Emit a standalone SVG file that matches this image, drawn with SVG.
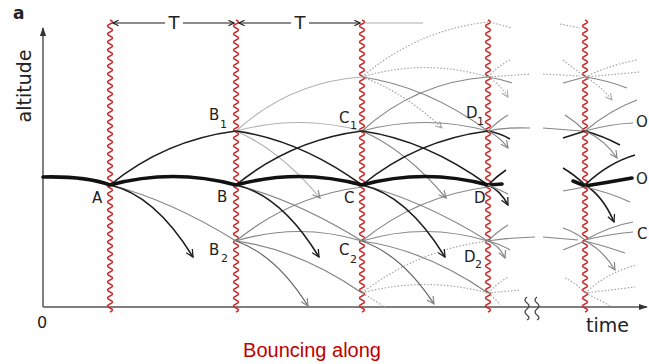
<svg xmlns="http://www.w3.org/2000/svg" xmlns:xlink="http://www.w3.org/1999/xlink" width="649" height="364" viewBox="0 0 649 364">
<style>
.thick{stroke:#111;stroke-width:3.6;fill:none;stroke-linecap:round}
.dk{stroke:#1e1e1e;stroke-width:1.6;fill:none}
.gr{stroke:#858585;stroke-width:1.2;fill:none}
.lg{stroke:#b0b0b0;stroke-width:1.1;fill:none}
.dt{stroke:#a5a5a5;stroke-width:1.2;fill:none;stroke-dasharray:1.5 1.8}
.red{stroke:#cc2b2b;stroke-width:1.5;fill:none}
.ax{stroke:#555;stroke-width:1.5;fill:none}
.lbl{font-family:"DejaVu Sans","Liberation Sans",sans-serif;font-size:15px;fill:#222}
.sub{font-family:"DejaVu Sans","Liberation Sans",sans-serif;font-size:11px;fill:#222}
.ad{marker-end:url(#arrDk)}
.ag{marker-end:url(#arrGr)}
.at{marker-end:url(#arrDt)}
</style>
<defs>
<path id="wave" class="red" d="M0,20 q5,2 0,4 t0,4t0,4t0,4t0,4t0,4t0,4t0,4t0,4t0,4t0,4t0,4t0,4 t0,4t0,4t0,4t0,4t0,4t0,4t0,4t0,4t0,4t0,4t0,4t0,4 t0,4t0,4t0,4t0,4t0,4t0,4t0,4t0,4t0,4t0,4t0,4t0,4 t0,4t0,4t0,4t0,4t0,4t0,4t0,4t0,4t0,4t0,4t0,4t0,4 t0,4t0,4t0,4t0,4t0,4t0,4t0,4t0,4t0,4t0,4t0,4t0,4 t0,4t0,4t0,4t0,4t0,4t0,4t0,4t0,4t0,4t0,4t0,4t0,4"/>
<marker id="arrDk" viewBox="0 0 10 10" refX="9" refY="5" markerWidth="9" markerHeight="9" markerUnits="userSpaceOnUse" orient="auto"><path d="M1,1 L9,5 L1,9" fill="none" stroke="#1e1e1e" stroke-width="1.4"/></marker>
<marker id="arrGr" viewBox="0 0 10 10" refX="9" refY="5" markerWidth="9" markerHeight="9" markerUnits="userSpaceOnUse" orient="auto"><path d="M1,1 L9,5 L1,9" fill="none" stroke="#858585" stroke-width="1.3"/></marker>
<marker id="arrDt" viewBox="0 0 10 10" refX="9" refY="5" markerWidth="8" markerHeight="8" markerUnits="userSpaceOnUse" orient="auto"><path d="M1,1 L9,5 L1,9" fill="none" stroke="#a5a5a5" stroke-width="1.2"/></marker>
<marker id="axArr" viewBox="0 0 10 10" refX="9" refY="5" markerWidth="9" markerHeight="9" markerUnits="userSpaceOnUse" orient="auto"><path d="M0,1.5 L10,5 L0,8.5 Z" fill="#333"/></marker>
<marker id="dimArr" viewBox="0 0 10 10" refX="9" refY="5" markerWidth="7" markerHeight="7" markerUnits="userSpaceOnUse" orient="auto"><path d="M1,1 L9,5 L1,9" fill="none" stroke="#222" stroke-width="1.6"/></marker>
</defs>
<rect width="649" height="364" fill="#fff"/>

<g id="axes">
<line class="ax" x1="43" y1="307" x2="43" y2="28" marker-end="url(#axArr)"/>
<line class="ax" x1="43" y1="307" x2="647" y2="307" marker-end="url(#axArr)"/>
<path d="M527,297 q-4,3 0,6 t0,6 t0,6 t0,5" stroke="#444" stroke-width="1.3" fill="none"/>
<path d="M537,297 q-4,3 0,6 t0,6 t0,6 t0,5" stroke="#444" stroke-width="1.3" fill="none"/>
<text x="13" y="19" font-family="DejaVu Sans,sans-serif" font-weight="bold" font-size="17" fill="#222">a</text>
<text transform="translate(31,86) rotate(-90)" text-anchor="middle" font-family="DejaVu Sans,sans-serif" font-size="19" fill="#222">altitude</text>
<text x="42" y="328" text-anchor="middle" font-family="DejaVu Sans,sans-serif" font-size="16" fill="#222">0</text>
<text x="586" y="332" font-family="DejaVu Sans,sans-serif" font-size="19" fill="#222">time</text>
</g>

<g id="bounces">
<use href="#wave" x="110"/>
<use href="#wave" x="236"/>
<use href="#wave" x="362"/>
<use href="#wave" x="488"/>
<use href="#wave" x="585"/>
</g>

<g id="period-marks">
<line x1="165" y1="23" x2="113" y2="23" stroke="#666" stroke-width="1.4" marker-end="url(#dimArr)"/>
<line x1="183" y1="23" x2="234" y2="23" stroke="#666" stroke-width="1.4" marker-end="url(#dimArr)"/>
<text x="174" y="29" text-anchor="middle" font-family="DejaVu Sans,sans-serif" font-size="18" fill="#222">T</text>
<line x1="291" y1="23" x2="239" y2="23" stroke="#666" stroke-width="1.4" marker-end="url(#dimArr)"/>
<line x1="309" y1="23" x2="360" y2="23" stroke="#666" stroke-width="1.4" marker-end="url(#dimArr)"/>
<text x="300" y="29" text-anchor="middle" font-family="DejaVu Sans,sans-serif" font-size="18" fill="#222">T</text>
<line x1="365" y1="23" x2="423" y2="23" stroke="#c8c8c8" stroke-width="1.4"/>
</g>

<g id="connectors">
<path class="dt" d="M362,77 Q417,30 488,22"/>
<path class="dt" d="M362,77 Q425,58 488,77"/>
<path class="dt at" d="M362,77 Q404,92 442,128"/>
<path class="dt" d="M362,293 Q417,250 488,241"/>
<path class="dt" d="M362,293 Q425,276 488,293"/>
<path class="dt" d="M362,293 Q375,300 385,308"/>
<path class="gr" d="M110,185 Q170,200 236,241"/>
<path class="gr" d="M236,185 Q296,200 362,241"/>
<path class="gr" d="M362,185 Q422,200 488,241"/>
<path class="lg" d="M236,131 Q299,114 362,131"/>
<path class="lg" d="M236,131 Q290,82 362,77"/>
<path class="lg ag" d="M236,131 Q280,150 320,198"/>
<path class="gr" d="M362,131 Q425,114 488,131"/>
<path class="gr" d="M362,131 Q416,82 488,77"/>
<path class="gr ag" d="M362,131 Q406,150 446,198"/>
<path class="gr" d="M236,241 Q291,196 362,187"/>
<path class="gr" d="M236,241 Q299,222 362,241"/>
<path class="gr" d="M236,241 Q300,250 362,293"/>
<path class="gr ag" d="M236,241 Q276,255 308,306" style="stroke:#666"/>
<path class="gr" d="M362,241 Q417,196 488,187"/>
<path class="gr" d="M362,241 Q425,222 488,241"/>
<path class="gr" d="M362,241 Q426,250 488,293"/>
<path class="gr ag" d="M362,241 Q402,255 434,304" style="stroke:#666"/>
<path class="gr" d="M362,77 Q426,86 488,131"/>
<path class="dk" d="M110,185 Q165,140 236,131"/>
<path class="dk ad" d="M110,185 Q155,195 193,257"/>
<path class="dk" d="M236,185 Q291,140 362,131"/>
<path class="dk ad" d="M236,185 Q281,195 319,257"/>
<path class="dk" d="M362,185 Q417,140 488,131"/>
<path class="dk ad" d="M362,185 Q407,195 445,257"/>
<path class="dk" d="M236,131 Q300,140 362,185"/>
<path class="dk" d="M362,131 Q426,140 488,185"/>
<path class="thick" d="M43,177 Q85,176 110,185 Q173,168 236,185 Q299,168 362,185 Q425,168 488,185 L502,184"/>

<path class="dk" d="M488,185 Q497,176 506,170"/>
<path class="dk ad" d="M488,185 Q500,190 508,205"/>
<path class="gr" d="M488,185 Q498,189 508,194"/>
<path class="dk" d="M488,131 Q500,133 510,139"/>
<path class="gr" d="M488,131 Q505,127 530,128"/>
<path class="gr" d="M488,131 Q498,121 508,115"/>
<path class="gr ag" d="M488,131 Q500,137 508,148"/>
<path class="gr" d="M488,77 Q500,79 512,83"/>
<path class="dt" d="M488,77 Q498,66 510,60"/>
<path class="dt" d="M488,77 L530,74"/>
<path class="dt at" d="M488,77 Q500,84 508,97"/>
<path class="dt" d="M490,22 L512,28"/>
<path class="gr" d="M488,241 Q498,231 508,225"/>
<path class="gr" d="M488,241 Q505,238 535,237"/>
<path class="gr" d="M488,241 Q500,244 510,250"/>
<path class="gr ag" d="M488,241 Q500,246 505,258"/>
<path class="dt" d="M488,293 Q498,283 508,277"/>
<path class="dt" d="M488,293 L520,290"/>
<path class="dt" d="M488,293 Q495,298 500,305"/>

<path class="gr" d="M543,128 L582,131"/>
<path class="gr" d="M543,237 L578,240"/>
<path class="dt" d="M543,74 L580,76"/>
<path class="dt" d="M560,24 L580,28"/>

<path class="thick" d="M573,181 L585,186 Q610,182 632,178"/>
<path class="dk" d="M563,168 Q575,175 585,185"/>
<path class="dk" d="M585,185 Q608,163 635,155"/>
<path class="dk ad" d="M585,185 Q603,196 614,222"/>
<path class="gr" d="M563,191 L585,187"/>
<path class="gr" d="M585,187 Q608,192 630,202"/>

<path class="gr" d="M565,115 Q576,122 585,131"/>
<path class="dk" d="M563,138 L585,131"/>
<path class="gr" d="M585,131 Q610,110 637,100"/>
<path class="gr" d="M585,131 Q610,124 633,123"/>
<path class="dk" d="M585,131 Q603,136 620,145"/>
<path class="gr ag" d="M585,131 Q605,140 617,158"/>

<path class="gr" d="M563,83 L585,77"/>
<path class="gr" d="M585,77 Q606,80 627,88"/>
<path class="dt" d="M563,60 L585,77"/>
<path class="dt" d="M585,77 Q610,65 637,60"/>
<path class="dt" d="M585,77 L640,72"/>
<path class="dt at" d="M585,77 Q600,85 612,100"/>

<path class="gr" d="M563,228 Q575,232 585,240"/>
<path class="gr" d="M563,250 L585,241"/>
<path class="gr" d="M585,240 Q610,226 633,222"/>
<path class="gr" d="M585,240 Q610,234 633,232"/>
<path class="gr" d="M585,241 Q605,246 625,253"/>
<path class="gr ag" d="M585,241 Q603,250 615,270"/>

<path class="dt" d="M565,278 Q576,283 585,293"/>
<path class="dt" d="M585,293 Q608,272 637,265"/>
<path class="dt" d="M585,293 L635,287"/>
<path class="dt" d="M585,293 Q600,300 610,306"/>
</g>

<g id="node-A"><text class="lbl" x="92" y="203">A</text></g>
<g id="node-B"><text class="lbl" x="217" y="202">B</text></g>
<g id="node-C"><text class="lbl" x="344" y="203">C</text></g>
<g id="node-D"><text class="lbl" x="474" y="203">D</text></g>
<g id="node-B1"><text class="lbl" x="209" y="120">B</text><text class="sub" x="220" y="128">1</text></g>
<g id="node-C1"><text class="lbl" x="339" y="123">C</text><text class="sub" x="350" y="129">1</text></g>
<g id="node-D1"><text class="lbl" x="466" y="118">D</text><text class="sub" x="477" y="125">1</text></g>
<g id="node-B2"><text class="lbl" x="209" y="255">B</text><text class="sub" x="221" y="262">2</text></g>
<g id="node-C2"><text class="lbl" x="339" y="255">C</text><text class="sub" x="350" y="263">2</text></g>
<g id="node-D2"><text class="lbl" x="464" y="262">D</text><text class="sub" x="475" y="268">2</text></g>
<g id="node-O1"><text class="lbl" x="636" y="127">O</text></g>
<g id="node-O0"><text class="lbl" x="636" y="184">O</text></g>
<g id="node-O2"><text class="lbl" x="637" y="239">C</text></g>

<text x="312" y="357" text-anchor="middle" font-family="Liberation Sans,Arial,sans-serif" font-size="20" fill="#c00000">Bouncing along</text>
</svg>
